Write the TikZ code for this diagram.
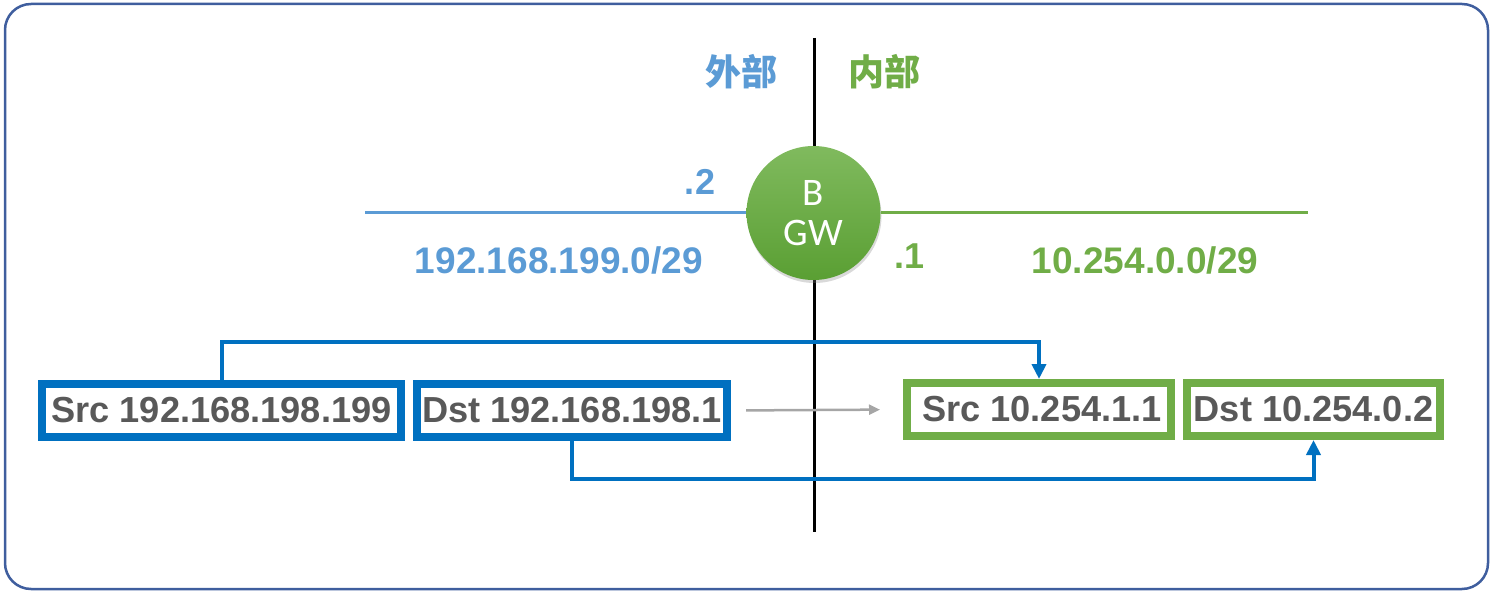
\documentclass[tikz,border=0pt]{standalone}
\usepackage{fontspec}
\setmainfont{Liberation Sans}
\newfontfamily\cjk{Noto Sans CJK SC}
\newfontfamily\carl{Carlito}
\usetikzlibrary{arrows.meta,shadows}
\definecolor{outerblue}{HTML}{3F5E9E}
\definecolor{lblue}{HTML}{5B9BD5}
\definecolor{lgreen}{HTML}{70AD47}
\definecolor{gtop}{HTML}{80BA5E}
\definecolor{gbot}{HTML}{5A9F33}
\definecolor{bblue}{HTML}{0070C0}
\definecolor{tgray}{HTML}{595959}
\definecolor{agray}{HTML}{A6A6A6}
\tikzset{
  big/.style={font=\fontsize{37}{40}\selectfont\bfseries},
  pktbox/.style={draw, line width=8pt, fill=white, inner sep=0pt, minimum height=53pt,
    text=tgray, font=\fontsize{36.2}{40}\selectfont\bfseries},
  bluebox/.style={pktbox, draw=bblue},
  greenbox/.style={pktbox, draw=lgreen},
  conn/.style={draw=bblue, line width=4pt, -{Triangle[width=14pt,length=15pt]}},
}
\begin{document}
\begin{tikzpicture}[x=1pt,y=-1pt]
\useasboundingbox (0,0) rectangle (1493,593);
\draw[outerblue, line width=2.5pt, rounded corners=26pt] (5,4) rectangle (1488,589);
% vertical divider
\coordinate (vtop) at (814,38);
\coordinate (vbot) at (814,532);
\draw[black, line width=3pt] (vtop) -- (vbot);
% zone labels
\node[text=lblue, font=\fontsize{36}{40}\selectfont\cjk\bfseries] (ext) at (741,72) {外部};
\node[text=lgreen, font=\fontsize{36}{40}\selectfont\cjk\bfseries] (int) at (884,72) {内部};
% gateway
\node[circle, minimum size=134pt, inner sep=0pt, top color=gtop, bottom color=gbot,
  drop shadow={opacity=0.3, shadow xshift=1pt, shadow yshift=-3pt},
  text=white, align=center, font=\fontsize{39}{43}\selectfont\carl] (gw) at (813.5,213) {B\\[-3pt]GW};
\coordinate (lend) at (365,213);
\coordinate (rend) at (1308,213);
\draw[lblue, line width=3pt] (lend) -- (gw.west);
\draw[lgreen, line width=3pt] (gw.east) -- (rend);
% addresses
\node[big, text=lblue, font=\fontsize{36}{40}\selectfont] (a2) at (700,182) {\textbf{.2}};
\node[big, text=lgreen, font=\fontsize{36}{40}\selectfont] (a1) at (909,256) {\textbf{.1}};
\node[big, text=lblue] (n1) at (559,260) {192.168.199.0/29};
\node[big, text=lgreen] (n2) at (1145,260) {10.254.0.0/29};
% packet boxes
\node[bluebox, minimum width=359pt] (s1) at (221.5,410.5) {Src 192.168.198.199};
\node[bluebox, minimum width=310pt] (d1) at (572,410.5) {Dst 192.168.198.1};
\node[greenbox, minimum width=264pt] (s2) at (1039,409.5) {\,Src 10.254.1.1};
\node[greenbox, minimum width=253pt] (d2) at (1313.5,409.5) {Dst 10.254.0.2};
% translation arrow
\draw[agray, line width=2.5pt, -{Triangle[width=10pt,length=11pt]}, shorten <=15pt, shorten >=23pt] (d1.east) -- (s2.west);
% connectors
\draw[conn] (s1.north) |- (1039,342) -- (s2.north);
\draw[conn] (d1.south) |- (1313.5,479) -- (d2.south);
\end{tikzpicture}
\end{document}
